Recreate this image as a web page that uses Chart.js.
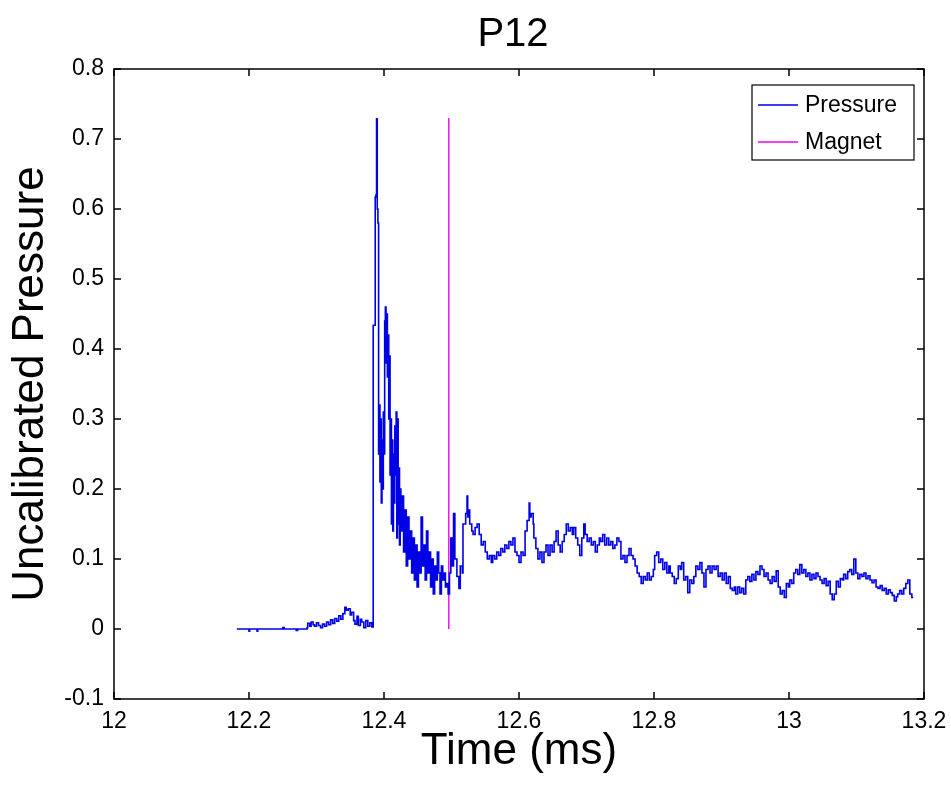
<!DOCTYPE html>
<html>
<head>
<meta charset="utf-8">
<script src="https://cdn.jsdelivr.net/npm/chart.js@4.4.1/dist/chart.umd.min.js"></script>
<style>
  html, body { margin: 0; padding: 0; background: #ffffff; }
  #wrap { width: 951px; height: 786px; }
</style>
</head>
<body>
<div id="wrap"><canvas id="c" width="951" height="786"></canvas></div>
<script>
const chartTitle = 'P12';
const xAxisTitle = 'Time (ms)';
const yAxisTitle = 'Uncalibrated Pressure';
const seriesNames = ['Pressure', 'Magnet'];

const xTickValues = [12, 12.2, 12.4, 12.6, 12.8, 13, 13.2];
const xTickLabels = ['12', '12.2', '12.4', '12.6', '12.8', '13', '13.2'];
const yTickValues = [-0.1, 0, 0.1, 0.2, 0.3, 0.4, 0.5, 0.6, 0.7, 0.8];
const yTickLabels = ['-0.1', '0', '0.1', '0.2', '0.3', '0.4', '0.5', '0.6', '0.7', '0.8'];

const pressureTime = [
  12.182, 12.200, 12.201, 12.203, 12.212, 12.213, 12.215, 12.250, 12.252, 12.254, 12.270, 12.272, 12.274, 12.286,
  12.287, 12.290, 12.292, 12.295, 12.297, 12.300, 12.303, 12.306, 12.309, 12.312, 12.315, 12.318, 12.321, 12.324,
  12.327, 12.330, 12.333, 12.336, 12.339, 12.342, 12.344, 12.347, 12.350, 12.352, 12.355, 12.357, 12.360, 12.362,
  12.365, 12.367, 12.370, 12.373, 12.376, 12.379, 12.382, 12.384,
  12.385, 12.387, 12.388, 12.389, 12.390, 12.391, 12.392, 12.393, 12.394, 12.395, 12.396, 12.397, 12.398, 12.399,
  12.400, 12.401, 12.402, 12.403, 12.404, 12.405, 12.406, 12.407, 12.408, 12.409, 12.410, 12.411, 12.412, 12.413,
  12.414, 12.415, 12.416, 12.417, 12.418, 12.419, 12.420, 12.421, 12.422, 12.423, 12.424, 12.425, 12.427, 12.429,
  12.431, 12.433, 12.435, 12.437, 12.439, 12.441, 12.443, 12.445, 12.447, 12.449, 12.451, 12.453, 12.455, 12.457,
  12.459, 12.461, 12.463, 12.465, 12.467, 12.469, 12.471, 12.473, 12.475, 12.477, 12.479, 12.481, 12.483, 12.485,
  12.487, 12.489, 12.491, 12.493, 12.495, 12.497, 12.499, 12.501, 12.503, 12.505,
  12.508, 12.511, 12.513, 12.516, 12.517, 12.520, 12.521, 12.523, 12.524, 12.526, 12.527, 12.530, 12.532, 12.535,
  12.538, 12.541, 12.544, 12.547, 12.550, 12.553, 12.556, 12.559, 12.561, 12.564, 12.567, 12.570, 12.573, 12.576,
  12.579, 12.582, 12.585, 12.588, 12.591, 12.594, 12.597, 12.600, 12.603, 12.606, 12.609, 12.612, 12.615, 12.616,
  12.618, 12.621, 12.622, 12.625, 12.628, 12.631, 12.634, 12.637, 12.640, 12.643, 12.646, 12.649, 12.652, 12.655,
  12.658, 12.661, 12.664, 12.667, 12.670, 12.673, 12.676, 12.679, 12.681, 12.684, 12.687, 12.690, 12.693, 12.696,
  12.698, 12.701, 12.704, 12.707, 12.710, 12.713, 12.716, 12.719, 12.721, 12.724, 12.727, 12.730, 12.733, 12.736,
  12.739, 12.742, 12.745, 12.748, 12.751, 12.754, 12.757, 12.760, 12.763, 12.766, 12.769, 12.772, 12.775, 12.778,
  12.781, 12.784, 12.787, 12.790, 12.793, 12.796, 12.799, 12.801, 12.804, 12.807, 12.810, 12.813, 12.816, 12.819,
  12.822, 12.824, 12.827, 12.830, 12.833, 12.836, 12.839, 12.841, 12.844, 12.847, 12.850, 12.853, 12.856, 12.859,
  12.862, 12.865, 12.868, 12.871, 12.874, 12.877, 12.880, 12.883, 12.886, 12.889, 12.892, 12.895, 12.898, 12.901,
  12.904, 12.907, 12.910, 12.913, 12.916, 12.919, 12.921, 12.924, 12.927, 12.930, 12.933, 12.936, 12.939, 12.942,
  12.945, 12.948, 12.951, 12.954, 12.957, 12.960, 12.963, 12.966, 12.969, 12.972, 12.975, 12.978, 12.981, 12.984,
  12.987, 12.990, 12.993, 12.996, 12.999, 13.001, 13.004, 13.007, 13.010, 13.013, 13.016, 13.019, 13.022, 13.025,
  13.028, 13.031, 13.034, 13.037, 13.040, 13.043, 13.046, 13.049, 13.052, 13.055, 13.058, 13.061, 13.064, 13.067,
  13.070, 13.073, 13.076, 13.079, 13.081, 13.084, 13.087, 13.090, 13.093, 13.096, 13.099, 13.102, 13.105, 13.108,
  13.111, 13.114, 13.117, 13.120, 13.123, 13.126, 13.129, 13.132, 13.135, 13.138, 13.141, 13.144, 13.147, 13.150,
  13.153, 13.156, 13.159, 13.161, 13.164, 13.167, 13.170, 13.173, 13.176, 13.179, 13.182, 13.184
];

const pressureValue = [
  0, 0, -0.003, 0, 0, -0.003, 0, 0, 0.002, 0, 0, -0.002, 0, 0,
  0.002, 0.008, 0.004, 0.010, 0.006, 0.004, 0.009, 0.005, 0.002, 0.007, 0.004, 0.010, 0.006, 0.013,
  0.008, 0.015, 0.011, 0.019, 0.014, 0.022, 0.031, 0.027, 0.029, 0.020, 0.024, 0.012, 0.007, 0.018,
  0.005, 0.014, 0.010, 0.002, 0.012, 0.004, 0.009, 0.003,
  0.434, 0.434, 0.617, 0.620, 0.729, 0.600, 0.580, 0.250, 0.320, 0.210, 0.300, 0.180, 0.270, 0.200,
  0.310, 0.250, 0.440, 0.460, 0.380, 0.450, 0.360, 0.420, 0.300, 0.390, 0.220, 0.300, 0.150, 0.270,
  0.140, 0.250, 0.180, 0.290, 0.220, 0.310, 0.130, 0.300, 0.150, 0.230, 0.120, 0.200, 0.140, 0.190,
  0.110, 0.170, 0.090, 0.160, 0.100, 0.140, 0.080, 0.130, 0.070, 0.120, 0.060, 0.110, 0.080, 0.160,
  0.090, 0.120, 0.070, 0.140, 0.080, 0.110, 0.060, 0.100, 0.050, 0.090, 0.070, 0.110, 0.080, 0.050,
  0.090, 0.070, 0.080, 0.060, 0.065, 0.050, 0.080, 0.130, 0.090, 0.165,
  0.100, 0.075, 0.058, 0.090, 0.080, 0.150, 0.150, 0.165, 0.190, 0.160, 0.170, 0.150, 0.140, 0.135,
  0.145, 0.150, 0.135, 0.120, 0.125, 0.110, 0.100, 0.105, 0.095, 0.105, 0.100, 0.110, 0.105, 0.115,
  0.110, 0.120, 0.115, 0.125, 0.120, 0.130, 0.110, 0.105, 0.095, 0.110, 0.105, 0.140, 0.155, 0.180,
  0.160, 0.165, 0.150, 0.130, 0.115, 0.100, 0.110, 0.095, 0.110, 0.120, 0.105, 0.120, 0.110, 0.125,
  0.140, 0.120, 0.110, 0.125, 0.135, 0.150, 0.140, 0.145, 0.135, 0.145, 0.130, 0.120, 0.105, 0.130,
  0.150, 0.135, 0.125, 0.130, 0.120, 0.125, 0.110, 0.120, 0.130, 0.125, 0.135, 0.120, 0.130, 0.120,
  0.125, 0.115, 0.120, 0.130, 0.125, 0.100, 0.105, 0.095, 0.105, 0.115, 0.105, 0.100, 0.090, 0.080,
  0.075, 0.065, 0.075, 0.070, 0.080, 0.070, 0.075, 0.085, 0.105, 0.110, 0.095, 0.100, 0.085, 0.095,
  0.080, 0.090, 0.080, 0.075, 0.065, 0.072, 0.090, 0.085, 0.095, 0.070, 0.075, 0.052, 0.070, 0.065,
  0.075, 0.090, 0.085, 0.095, 0.080, 0.060, 0.085, 0.090, 0.080, 0.090, 0.085, 0.090, 0.075, 0.080,
  0.070, 0.080, 0.065, 0.075, 0.058, 0.055, 0.060, 0.050, 0.060, 0.052, 0.058, 0.050, 0.070, 0.075,
  0.068, 0.078, 0.070, 0.082, 0.078, 0.090, 0.085, 0.075, 0.080, 0.070, 0.065, 0.075, 0.068, 0.083,
  0.060, 0.050, 0.055, 0.045, 0.065, 0.060, 0.070, 0.065, 0.080, 0.085, 0.078, 0.092, 0.080, 0.085,
  0.075, 0.080, 0.070, 0.078, 0.072, 0.080, 0.075, 0.070, 0.065, 0.072, 0.062, 0.068, 0.050, 0.042,
  0.050, 0.068, 0.060, 0.072, 0.070, 0.078, 0.072, 0.082, 0.085, 0.078, 0.100, 0.080, 0.072, 0.078,
  0.075, 0.080, 0.072, 0.076, 0.070, 0.066, 0.070, 0.060, 0.058, 0.062, 0.055, 0.058, 0.050, 0.056,
  0.052, 0.048, 0.040, 0.046, 0.050, 0.055, 0.050, 0.058, 0.065, 0.070, 0.050, 0.045
];

const magnetTime = [12.496, 12.496];
const magnetValue = [0, 0.73];

const FONT = "'Liberation Sans', Arial, Helvetica, sans-serif";

const frameAndLegend = {
  id: 'frameAndLegend',
  afterDraw(chart) {
    const { ctx, chartArea: a, scales: { x, y } } = chart;
    ctx.save();
    // title above the plot box
    ctx.fillStyle = '#000';
    ctx.font = '40px ' + FONT;
    ctx.textAlign = 'center';
    ctx.textBaseline = 'middle';
    ctx.fillText(chartTitle, (a.left + a.right) / 2 - 6, 35);

    ctx.strokeStyle = '#000';
    ctx.lineWidth = 1.5;
    ctx.strokeRect(a.left, a.top, a.right - a.left, a.bottom - a.top);
    const L = 7;
    ctx.beginPath();
    x.ticks.forEach(t => {
      const px = x.getPixelForValue(t.value);
      ctx.moveTo(px, a.bottom); ctx.lineTo(px, a.bottom - L);
      ctx.moveTo(px, a.top); ctx.lineTo(px, a.top + L);
    });
    y.ticks.forEach(t => {
      const py = y.getPixelForValue(t.value);
      ctx.moveTo(a.left, py); ctx.lineTo(a.left + L, py);
      ctx.moveTo(a.right, py); ctx.lineTo(a.right - L, py);
    });
    ctx.stroke();

    // legend box
    const bw = 162, bh = 75;
    const bx = a.right - 10 - bw, by = a.top + 16;
    ctx.fillStyle = '#fff';
    ctx.fillRect(bx, by, bw, bh);
    ctx.lineWidth = 1.2;
    ctx.strokeRect(bx, by, bw, bh);
    ctx.font = '23px ' + FONT;
    ctx.textBaseline = 'middle';
    ctx.textAlign = 'left';
    chart.data.datasets.forEach((ds, i) => {
      const ly = by + 20 + i * 37;
      ctx.strokeStyle = ds.borderColor;
      ctx.lineWidth = 1.4;
      ctx.beginPath();
      ctx.moveTo(bx + 6, ly); ctx.lineTo(bx + 46, ly);
      ctx.stroke();
      ctx.fillStyle = '#000';
      ctx.fillText(ds.label, bx + 53, ly + 1);
    });
    ctx.restore();
  }
};

new Chart(document.getElementById('c'), {
  type: 'line',
  data: {
    datasets: [
      {
        label: seriesNames[0],
        data: pressureTime.map((t, i) => ({ x: t, y: pressureValue[i] })),
        borderColor: '#0000e6',
        borderWidth: 1.6,
        pointRadius: 0,
        stepped: 'after',
        fill: false
      },
      {
        label: seriesNames[1],
        data: magnetTime.map((t, i) => ({ x: t, y: magnetValue[i] })),
        borderColor: '#f000f0',
        borderWidth: 1.4,
        pointRadius: 0,
        fill: false
      }
    ]
  },
  options: {
    responsive: false,
    animation: false,
    layout: { padding: { top: 69, right: 27, bottom: 0, left: 0 } },
    plugins: {
      legend: { display: false },
      tooltip: { enabled: false },
      title: { display: false }
    },
    scales: {
      x: {
        type: 'linear',
        min: 12, max: 13.2,
        afterFit(scale) { scale.height = 87; scale.paddingLeft = 0; scale.paddingRight = 0; },
        afterBuildTicks(scale) { scale.ticks = xTickValues.map(v => ({ value: v })); },
        ticks: {
          color: '#000',
          font: { family: FONT, size: 23 },
          padding: 9,
          maxRotation: 0,
          autoSkip: false,
          callback: (v, i) => xTickLabels[i]
        },
        grid: { display: false, drawTicks: false },
        border: { display: false },
        title: {
          display: true,
          text: xAxisTitle,
          color: '#000',
          font: { family: FONT, size: 44, lineHeight: 1.2 },
          padding: { top: 0, bottom: 8 }
        }
      },
      y: {
        type: 'linear',
        min: -0.1, max: 0.8,
        afterFit(scale) { scale.width = 114; },
        afterBuildTicks(scale) { scale.ticks = yTickValues.map(v => ({ value: v })); },
        ticks: {
          color: '#000',
          font: { family: FONT, size: 23 },
          padding: 10,
          autoSkip: false,
          callback: (v, i) => yTickLabels[i]
        },
        grid: { display: false, drawTicks: false },
        border: { display: false },
        title: {
          display: true,
          text: yAxisTitle,
          color: '#000',
          font: { family: FONT, size: 44, lineHeight: 1.2 },
          padding: { top: 4, bottom: 0 }
        }
      }
    }
  },
  plugins: [frameAndLegend]
});
</script>
</body>
</html>
